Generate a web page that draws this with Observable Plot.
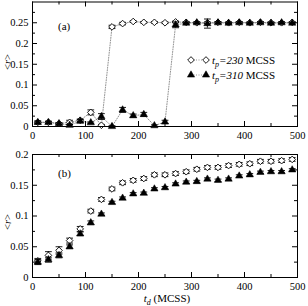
<!DOCTYPE html>
<html><head><meta charset="utf-8">
<script src="https://cdn.jsdelivr.net/npm/d3@7"></script>
<script src="https://cdn.jsdelivr.net/npm/@observablehq/plot@0.6"></script>
<style>
body{margin:0;background:#fff;}
#chart{width:308px;height:306px;position:relative;background:#fff;}
svg{display:block;}
</style></head><body><div id="chart"></div>
<script>
// ---- data ----
const td = [10,30,50,70,90,110,130,150,170,190,210,230,250,270,290,310,330,350,370,390,410,430,450,470,490];
// panel (a)
const aTp230 = [0.010,0.010,0.007,0.010,0.015,0.034,0.003,0.240,0.248,0.253,0.251,0.251,0.250,0.252,0.251,0.250,0.250,0.251,0.250,0.251,0.250,0.251,0.250,0.250,0.251];
const aTp230Err = [0.002,0.002,0.002,0.005,0.003,0.006,0.002,0.004,0.003,0.002,0.002,0.002,0.002,0.002,0.002,0.002,0.002,0.002,0.002,0.002,0.002,0.002,0.002,0.002,0.002];
const aTp310 = [0.010,0.010,0.007,0.003,0.013,0.009,0.024,0.000,0.040,0.026,0.029,0.002,0.011,0.245,0.249,0.250,0.248,0.250,0.249,0.250,0.249,0.250,0.249,0.250,0.249];
const aTp310Err = [0.004,0.003,0.002,0.002,0.004,0.002,0.007,0.002,0.006,0.004,0.005,0.002,0.004,0.007,0.002,0.002,0.011,0.002,0.002,0.002,0.002,0.002,0.002,0.002,0.002];
// panel (b)
const bTp230 = [0.027,0.036,0.044,0.060,0.079,0.108,0.127,0.144,0.154,0.158,0.161,0.167,0.167,0.169,0.172,0.176,0.179,0.179,0.182,0.184,0.185,0.189,0.189,0.190,0.192];
const bTp230Err = [0.004,0.006,0.006,0.004,0.004,0.003,0.003,0.003,0.003,0.003,0.003,0.003,0.003,0.003,0.003,0.003,0.003,0.003,0.003,0.003,0.003,0.003,0.003,0.003,0.003];
const bTp310 = [0.025,0.029,0.036,0.050,0.071,0.089,0.103,0.122,0.129,0.136,0.137,0.144,0.146,0.152,0.155,0.156,0.160,0.158,0.160,0.165,0.167,0.171,0.172,0.172,0.175];
const bTp310Err = [0.004,0.004,0.004,0.003,0.003,0.003,0.002,0.002,0.002,0.002,0.002,0.002,0.002,0.002,0.002,0.002,0.002,0.002,0.002,0.002,0.002,0.002,0.002,0.002,0.002];
// ticks
const xTicks = [0,100,200,300,400,500];
const xMinor = [50,150,250,350,450];
const yTicksA = [0,0.05,0.1,0.15,0.2,0.25];
const yMinorA = [0.025,0.075,0.125,0.175,0.225,0.275];
const yTicksB = [0,0.05,0.1,0.15,0.2];
const yMinorB = [0.025,0.075,0.125,0.175];
const legendNums = ["230","310"];

const W = 308, ML = 32, MR = 11;
const FONT = "Liberation Serif";
const capSym = {draw(ctx){ ctx.moveTo(-3.4,0); ctx.lineTo(3.4,0); }};

function panel({height, marginTop, marginBottom, yDomain, A, Aerr, B, Berr, lines, yTicks, yMinor}) {
  const H = height - marginTop - marginBottom;
  const IW = W - ML - MR;
  const idx = td.map((_, i) => i);
  const marks = [];
  if (lines) {
    marks.push(Plot.line(idx, {x: i => td[i], y: i => A[i], stroke: "#777", strokeWidth: 0.8, strokeDasharray: "1,1.5"}));
    marks.push(Plot.line(idx, {x: i => td[i], y: i => B[i], stroke: "#777", strokeWidth: 0.8, strokeDasharray: "1,1.5"}));
  }
  const errMarks = (V, E) => [
    Plot.ruleX(idx, {x: i => td[i], y1: i => V[i] - E[i], y2: i => V[i] + E[i], stroke: "black", strokeWidth: 0.9}),
    Plot.dot(idx, {x: i => td[i], y: i => V[i] - E[i], symbol: capSym, fill: "none", stroke: "black", strokeWidth: 0.9}),
    Plot.dot(idx, {x: i => td[i], y: i => V[i] + E[i], symbol: capSym, fill: "none", stroke: "black", strokeWidth: 0.9})
  ];
  marks.push(...errMarks(A, Aerr));
  marks.push(Plot.dot(idx, {x: i => td[i], y: i => A[i], symbol: "diamond2", r: 3.0, fill: "white", stroke: "black", strokeWidth: 0.9}));
  marks.push(...errMarks(B, Berr));
  marks.push(Plot.dot(idx, {x: i => td[i], y: i => B[i], symbol: "triangle", r: 2.7, fill: "black", stroke: "black", strokeWidth: 0.5}));
  // inward tick marks
  [[xTicks, 5], [xMinor, 3]].forEach(([t, L]) => {
    marks.push(Plot.ruleX(t, {x: d => d, insetTop: H - L, stroke: "black", strokeWidth: 1}));
    marks.push(Plot.ruleX(t, {x: d => d, insetBottom: H - L, stroke: "black", strokeWidth: 1}));
  });
  [[yTicks, 5], [yMinor, 3]].forEach(([t, L]) => {
    marks.push(Plot.ruleY(t, {y: d => d, insetRight: IW - L, stroke: "black", strokeWidth: 1}));
    marks.push(Plot.ruleY(t, {y: d => d, insetLeft: IW - L, stroke: "black", strokeWidth: 1}));
  });
  marks.push(Plot.frame({stroke: "black", strokeWidth: 1}));
  marks.push(Plot.axisX(xTicks, {tickSize: 0, tickPadding: 5, tickFormat: d => String(d), label: null}));
  marks.push(Plot.axisY(yTicks, {tickSize: 0, tickPadding: 4, tickFormat: d => String(d), label: null}));
  return Plot.plot({
    width: W, height, marginLeft: ML, marginRight: MR, marginTop, marginBottom,
    x: {domain: [0, 500]},
    y: {domain: yDomain},
    style: {fontFamily: FONT, fontSize: "10.5px", color: "black", background: "white", overflow: "visible"},
    marks
  });
}

const topPlot = panel({height: 140, marginTop: 1.5, marginBottom: 14, yDomain: [0, 0.3],
  A: aTp230, Aerr: aTp230Err, B: aTp310, Berr: aTp310Err, lines: true, yTicks: yTicksA, yMinor: yMinorA});
const botPlot = panel({height: 166, marginTop: 14, marginBottom: 29, yDomain: [0, 0.2],
  A: bTp230, Aerr: bTp230Err, B: bTp310, Berr: bTp310Err, lines: false, yTicks: yTicksB, yMinor: yMinorB});

const chart = document.getElementById("chart");
chart.appendChild(topPlot);
chart.appendChild(botPlot);

function yLabel(svg, cy) {
  const t = d3.select(svg).append("text")
    .attr("transform", `translate(10.5,${cy}) rotate(-90)`)
    .attr("text-anchor", "middle").attr("font-family", FONT).attr("font-size", "10.5px").attr("fill", "black");
  t.append("tspan").text("<");
  t.append("tspan").attr("font-style", "italic").text("r");
  t.append("tspan").text(">");
}
function panelTag(svg, x, y, s) {
  d3.select(svg).append("text").attr("x", x).attr("y", y).attr("text-anchor", "start")
    .attr("font-family", FONT).attr("font-size", "11px").attr("fill", "black").text(s);
}
yLabel(topPlot, 62);
yLabel(botPlot, 82);
panelTag(topPlot, 58, 30, "(a)");
panelTag(botPlot, 58, 37, "(b)");

// x label for bottom panel
{
  const t = d3.select(botPlot).append("text").attr("x", 167).attr("y", 162)
    .attr("text-anchor", "middle").attr("font-family", FONT).attr("font-size", "11px").attr("fill", "black");
  t.append("tspan").attr("font-style", "italic").text("t");
  t.append("tspan").attr("font-style", "italic").attr("font-size", "8px").attr("dy", "3").text("d");
  t.append("tspan").attr("dy", "-3").text(" (MCSS)");
}

// legend in panel (a)
{
  const g = d3.select(topPlot).append("g");
  const rows = [{y: 60, sym: d3.symbolDiamond2, fill: "white", size: Math.PI * 3.0 * 3.0},
                {y: 75, sym: d3.symbolTriangle, fill: "black", size: Math.PI * 2.7 * 2.7}];
  rows.forEach((r, k) => {
    g.append("line").attr("x1", 191).attr("x2", 206).attr("y1", r.y).attr("y2", r.y)
      .attr("stroke", "#777").attr("stroke-width", 0.8).attr("stroke-dasharray", "1,1.5");
    [191, 206].forEach(x => g.append("path").attr("d", d3.symbol(r.sym, r.size)())
      .attr("transform", `translate(${x},${r.y})`).attr("fill", r.fill).attr("stroke", "black")
      .attr("stroke-width", k === 0 ? 0.9 : 0.5));
    const t = g.append("text").attr("x", 212).attr("y", r.y + 3.5).attr("text-anchor", "start")
      .attr("font-family", FONT).attr("font-size", "11px").attr("fill", "black");
    t.append("tspan").attr("font-style", "italic").text("t");
    t.append("tspan").attr("font-style", "italic").attr("font-size", "8px").attr("dy", "3").text("p");
    t.append("tspan").attr("font-style", "italic").attr("dy", "-3").text("=" + legendNums[k]);
    t.append("tspan").text(" MCSS");
  });
}
</script>
</body></html>
